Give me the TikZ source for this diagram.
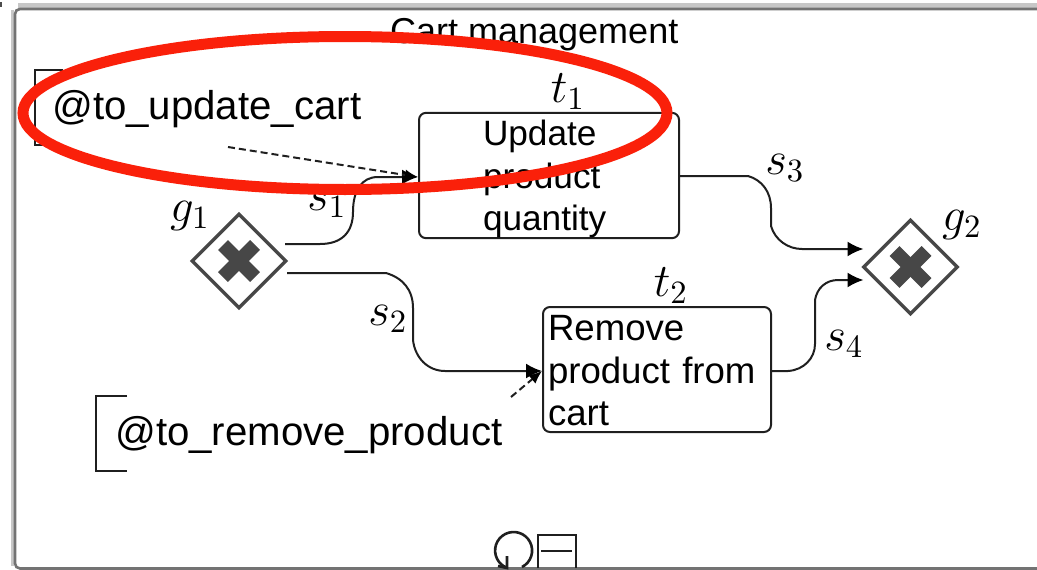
\documentclass[tikz,border=0pt]{standalone}
\usepackage{fontspec}
\setmainfont{Liberation Sans}
\usetikzlibrary{shapes.geometric,arrows.meta,calc}
\definecolor{framegray}{gray}{0.45}
\definecolor{shadowgray}{gray}{0.78}
\definecolor{linegray}{gray}{0.12}
\definecolor{gategray}{gray}{0.28}
\definecolor{markred}{RGB}{250,32,10}
\tikzset{
  x=1pt,y=-1pt,
  taskbox/.style={draw=linegray,line width=2pt,rounded corners=7pt,align=left,inner ysep=0pt,font=\fontsize{35.2}{42.5}\selectfont},
  gate/.style={diamond,draw=gategray,line width=3.4pt,minimum width=95pt,minimum height=95pt,inner sep=0pt},
  flow/.style={draw=linegray,line width=2pt,-{Latex[length=16pt,width=15pt,color=black]}},
  assoc/.style={draw=linegray,line width=2pt,dash pattern=on 7pt off 4pt,-{Latex[length=13pt,width=11pt,color=black]}},
  bracket/.style={draw=linegray,line width=1.8pt},
  annot/.style={anchor=base west,inner sep=0pt,font=\fontsize{40.2}{48}\selectfont},
  mathlab/.style={inner sep=0pt,scale=3.25,font=\Large},
  cross/.style={draw=gategray,line width=14pt},
}
\begin{document}
\begin{tikzpicture}
\useasboundingbox (0,0) rectangle (1037,570);
\fill[black!70] (0,2) rectangle (2,7);
% window frame
\draw[shadowgray,line width=6pt] (1037,6) -- (18,6);
\draw[shadowgray,line width=3pt] (12.5,10) -- (12.5,566);
\draw[framegray,line width=2.6pt,rounded corners=5pt] (1037,9) -- (15,9) -- (15,568.5) -- (1037,568.5);
\node[anchor=base west,inner sep=0pt,font=\fontsize{36}{43}\selectfont] (title) at (390,43) {Cart management};
% tasks
\node[taskbox,minimum width=260pt,minimum height=125pt,text width=132pt,inner xsep=64pt] (t1) at (549,175.5) {\rule{0pt}{33pt}Update\\product\\quantity};
\node[taskbox,font=\fontsize{36.6}{42.5}\selectfont,minimum width=228pt,minimum height=125pt,text width=222pt,inner xsep=3pt,xshift=0pt] (t2) at (657,369.5) {\hspace{2pt}\rule{0pt}{28pt}Remove\\\hspace{2pt}product from\\\hspace{2pt}cart};
% gateways
\node[gate] (g1) at (239,261) {};
\node[gate] (g2) at (910.5,267) {};
\foreach \g in {g1,g2}{
  \draw[cross] ($(\g.center)+(-16,-16)$) -- ($(\g.center)+(16,16)$);
  \draw[cross] ($(\g.center)+(-16,16)$) -- ($(\g.center)+(16,-16)$);
}
% flows
\coordinate (s1start) at ($(g1.center)+(46,-17)$);
\coordinate (s2start) at ($(g1.center)+(48,12)$);
\coordinate (g2up) at ($(g2.center)+(-47,-18)$);
\coordinate (g2low) at ($(g2.center)+(-47,13)$);
\coordinate (t1in) at ($(t1.west)+(0,1.5)$);
\coordinate (t1out) at ($(t1.east)+(0,0.5)$);
\coordinate (t2in) at ($(t2.west)+(0,1.5)$);
\coordinate (t2out) at ($(t2.east)+(0,1.5)$);
\draw[flow] (s1start) -- (320,244) .. controls (342,244) and (353,232) .. (353,212) .. controls (353,190) and (362,177) .. (378,177) -- (t1in);
\draw[flow] (s2start) -- (386,273) .. controls (403,278) and (413,290) .. (413,308) -- (413,340) .. controls (415,358) and (428,371) .. (445,371) -- (t2in);
\draw[flow] (t1out) -- (748,176) .. controls (762,180) and (771,192) .. (771,208) -- (771,226) .. controls (775,240) and (788,249) .. (802,249) -- (g2up);
\draw[flow] (t2out) -- (788,371) .. controls (804,370) and (815,358) .. (815,344) -- (815,300) .. controls (817,288) and (826,280) .. (838,280) -- (g2low);
% annotations
\node[annot] (a1) at (52,119) {@to\_update\_cart};
\node[annot] (a2) at (115,445) {@to\_remove\_product};
\coordinate (a1b1) at (63,70); \coordinate (a1b2) at (35,70);
\coordinate (a1b3) at (35,145); \coordinate (a1b4) at (63,145);
\coordinate (a2b1) at (127,396); \coordinate (a2b2) at (96,396);
\coordinate (a2b3) at (96,471); \coordinate (a2b4) at (127,471);
\draw[bracket] (a1b1) -- (a1b2) -- (a1b3) -- (a1b4);
\draw[bracket] (a2b1) -- (a2b2) -- (a2b3) -- (a2b4);
\coordinate (as1) at (228,147);
\coordinate (as2) at (511,397);
\draw[assoc] (as1) -- (t1in);
\draw[assoc] (as2) -- (t2in);
% labels
\node[mathlab] (lt1) at (568,92) {$t_{1}$};
\node[mathlab] (lt2) at (671,286) {$t_{2}$};
\node[mathlab] (lg1) at (190,216) {$g_{1}$};
\node[mathlab] (lg2) at (962,225) {$g_{2}$};
\node[mathlab] (ls1) at (327,204) {$s_{1}$};
\node[mathlab] (ls2) at (388,319) {$s_{2}$};
\node[mathlab] (ls3) at (785,168) {$s_{3}$};
\node[mathlab] (ls4) at (844,344) {$s_{4}$};
% markers
\draw[linegray,line width=2.6pt] (522,567) arc[start angle=63,delta angle=-310,radius=18.5];
\draw[linegray,line width=2.6pt] (507,556) -- (507,568) -- (498,566);
\draw[linegray,line width=2.6pt] (538,568) -- (538,535) -- (576,535) -- (576,568);
\draw[linegray,line width=2.6pt] (541,551) -- (572,551);
% highlight
\draw[markred,line width=11pt] (345,113) ellipse[x radius=322,y radius=76.5];
\end{tikzpicture}
\end{document}
